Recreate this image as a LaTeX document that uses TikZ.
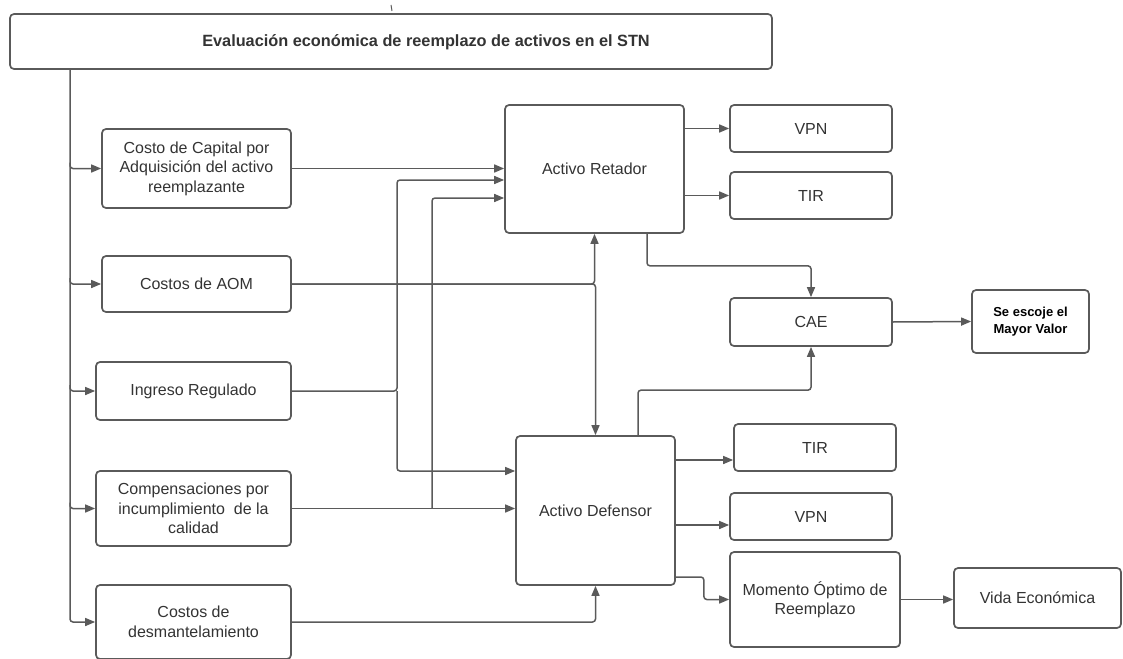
\documentclass[tikz,border=0pt]{standalone}
\usepackage{fontspec}
\setmainfont{Liberation Sans}
\usetikzlibrary{arrows.meta,calc}
\definecolor{lc}{HTML}{5A5A5A}
\definecolor{tc}{HTML}{333333}
\begin{document}
\begin{tikzpicture}[x=1pt,y=-1pt,
  box/.style={draw=lc,line width=1.7pt,rounded corners=4pt,inner sep=0pt,align=center,text=tc,
    font=\fontsize{16}{19.5}\selectfont},
  conn/.style={draw=lc,line width=1.5pt,rounded corners=3pt},
  arr/.style={conn,-{Triangle[length=10pt,width=8pt]}}]
\useasboundingbox (0,0) rectangle (1123,658);
% nodes
\node[box,minimum width=762,minimum height=55] (title) at (391,41.5) {};
\node[text=tc,font=\bfseries\fontsize{16.3}{19}\selectfont] (titletext) at (426,42) {Evaluación económica de reemplazo de activos en el STN};
\node[box,minimum width=189,minimum height=79] (cap) at (196.5,168.5) {Costo de Capital por\\Adquisición del activo\\reemplazante};
\node[box,minimum width=189,minimum height=56] (aom) at (196.5,284) {Costos de AOM};
\node[box,minimum width=195,minimum height=58] (ing) at (193.5,391) {Ingreso Regulado};
\node[box,minimum width=195,minimum height=75] (comp) at (193.5,508.5) {Compensaciones por\\incumplimiento\ \ de la\\calidad};
\node[box,minimum width=195,minimum height=74] (desm) at (193.5,622) {Costos de\\desmantelamiento};
\node[box,minimum width=179,minimum height=128] (ret) at (594.5,169) {Activo Retador};
\node[box,minimum width=162,minimum height=47] (vpn1) at (811,128.5) {VPN};
\node[box,minimum width=162,minimum height=47] (tir1) at (811,195.5) {TIR};
\node[box,minimum width=162,minimum height=48] (cae) at (811,322) {CAE};
\node[box,minimum width=117,minimum height=63,font=\bfseries\fontsize{13}{16.5}\selectfont,text=black] (mayor) at (1030.5,321.5) {Se escoje el\\Mayor Valor};
\node[box,minimum width=159,minimum height=149] (def) at (595.5,510.5) {Activo Defensor};
\node[box,minimum width=162,minimum height=47] (tir2) at (815,447.5) {TIR};
\node[box,minimum width=162,minimum height=47] (vpn2) at (811,516.5) {VPN};
\node[box,minimum width=170,minimum height=95] (mom) at (815,599.5) {Momento Óptimo de\\Reemplazo};
\node[box,minimum width=167,minimum height=60] (vida) at (1037.5,598) {Vida Económica};
% small tick at top
\draw[lc,line width=1pt] (391,5) -- (392,11);
% left trunk
\coordinate (t0) at (70,69);
\draw[arr] (t0) |- (desm.west);
\foreach \n in {cap,aom,ing,comp}{
  \draw[arr] ($(t0|-\n.west)+(0,-6)$) |- (\n.west);
}
% inputs to Retador / Defensor
\draw[arr] (cap.east) -- (cap.east -| ret.west);
\coordinate (ja) at (397,391);
\draw[arr] (ing.east) -- (ja) |- ([yshift=-11pt]ret.west);
\draw[arr] (ja) |- ([yshift=39.5pt]def.west);
\coordinate (jb) at (432,508.5);
\draw[arr] (comp.east) -- (comp.east -| def.west);
\draw[arr] (jb) |- ([yshift=-29pt]ret.west);
\draw[arr] (aom.east) -| (ret.south);
\draw[arr] (aom.east) -| (def.north);
\draw[arr] (desm.east) -| (def.south);
% outputs
\draw[arr] (ret.east |- vpn1.west) -- (vpn1.west);
\draw[arr] (ret.east |- tir1.west) -- (tir1.west);
\draw[arr] ([xshift=52.5pt]ret.south) -- ++(0,32) -| (cae.north);
\draw[arr] ([xshift=42.5pt]def.north) -- ++(0,-45) -| (cae.south);
\draw[arr] (cae.east) -- (mayor.west);
\coordinate (d1) at ([yshift=50.5pt]def.east);
\coordinate (d2) at ([yshift=-14.5pt]def.east);
\coordinate (d3) at ([yshift=-66.5pt]def.east);
\draw[arr] (d1) -- (d1 -| tir2.west);
\draw[arr] (d2) -- (d2 -| vpn2.west);
\draw[arr] (d3) -- ++(28,0) |- (mom.west);
\draw[arr] (mom.east) -- (mom.east -| vida.west);
\end{tikzpicture}
\end{document}
